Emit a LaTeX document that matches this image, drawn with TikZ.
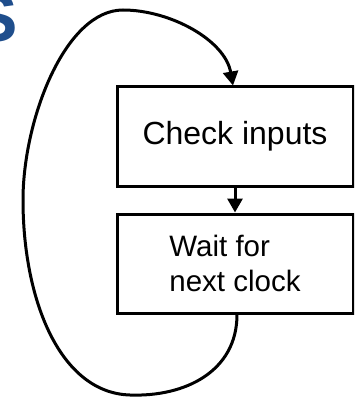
\documentclass[tikz,border=0pt]{standalone}
\usepackage{fontspec}
\setmainfont{Liberation Sans}
\usetikzlibrary{arrows.meta}
\definecolor{titleblue}{RGB}{31,78,140}

\begin{document}
\begin{tikzpicture}[
        x=1pt, y=-1pt,
        stepbox/.style={rectangle, draw, line width=3pt, minimum width=236pt, minimum height=99pt, inner sep=0pt},
        flow/.style={line width=3pt, -{Triangle[length=14pt, width=15pt]}}
    ]
    \clip (0,0) rectangle (354,398);

    % Heading letter, cut by the page edge
    \node[anchor=base east, inner sep=0pt, text=titleblue, font=\fontsize{68}{68}\selectfont\bfseries] (title) at (18,42) {S};

    % The two steps
    \node[stepbox, font=\fontsize{32}{36}\selectfont] (check) at (235,136.5) {Check inputs};
    \node[stepbox, align=left, font=\fontsize{29.5}{35}\selectfont] (wait) at (235,263.5) {Wait for\\next clock};

    % --- Edges ---
    \draw[flow] (check) -- (wait);

    % Loop back round the left side
    \draw[flow] ([xshift=2pt]wait.south) .. controls +(0,57) and (185,397) .. (130,395)
        .. controls (60,393) and (23,300) .. (23,200)
        .. controls (23,120) and (65,10) .. (123,10)
        .. controls (170,10) and (225,40) .. ([xshift=-2pt]check.north);

\end{tikzpicture}
\end{document}
